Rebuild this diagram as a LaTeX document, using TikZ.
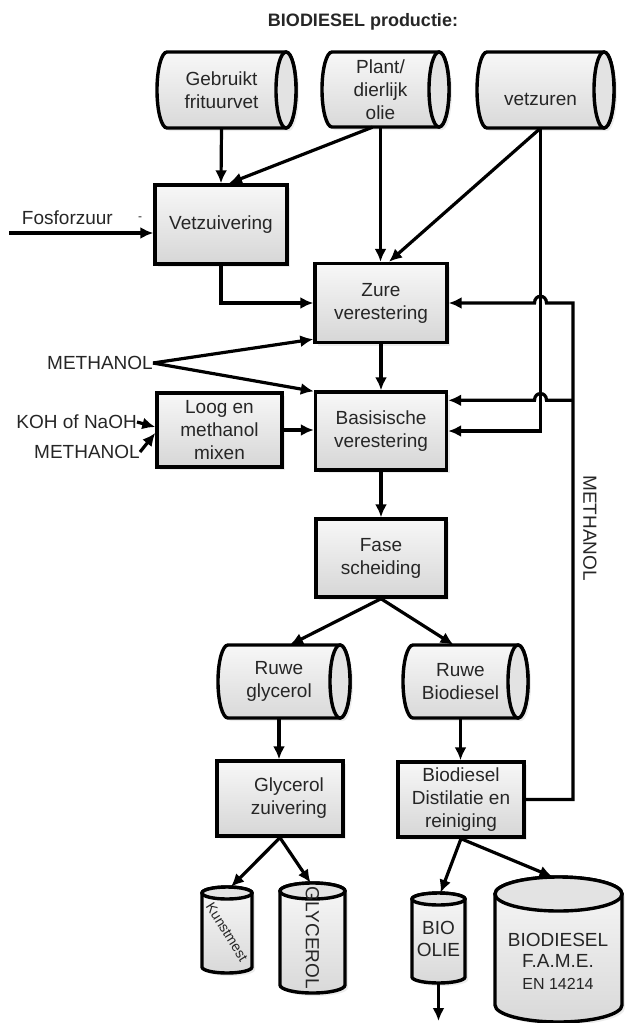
\documentclass[tikz,border=0pt]{standalone}
\usepackage{fontspec}
\setmainfont{Liberation Sans}
\usetikzlibrary{arrows.meta,shadows}

\newcommand\txtsize{\fontsize{19}{23}\selectfont}

\tikzset{
  outline/.style={draw=black, line width=3.4pt},
  softshadow/.style={drop shadow={shadow xshift=3pt, shadow yshift=-3pt, opacity=0.15}},
  procbox/.style={outline, rectangle, inner sep=0pt, align=center,
    top color=gray!6, bottom color=gray!32, text=black!85, font=\txtsize, softshadow},
  drumbody/.style={outline, top color=gray!6, bottom color=gray!30, softshadow},
  drumcap/.style={outline, fill=gray!22},
  drumlabel/.style={inner sep=0pt, align=center, text=black!85, font=\txtsize},
  plain/.style={inner sep=0pt, align=center, text=black!85, font=\txtsize},
  flow/.style={line width=3.2pt, -{Latex[length=13pt,width=12pt]}},
}

% lying drum: name, left x, top y, right x, bottom y, label
\newcommand\lyingdrum[6]{%
  \pgfmathsetmacro\drumXa{#2+10}%
  \pgfmathsetmacro\drumXb{#4-10}%
  \pgfmathsetmacro\drumR{(#5-#3)/2}%
  \pgfmathsetmacro\drumYm{(#3+#5)/2}%
  \pgfmathsetmacro\drumW{#4-10-#2}%
  \pgfmathsetmacro\drumH{#5-#3}%
  \pgfmathsetmacro\drumXc{(#2+#4-10)/2}%
  \path[drumbody] (\drumXb,#3) -- (\drumXa,#3)
     arc[start angle=90,end angle=270,x radius=10pt,y radius=\drumR pt]
     -- (\drumXb,#5)
     arc[start angle=-90,end angle=90,x radius=10pt,y radius=\drumR pt] -- cycle;
  \draw[drumcap] (\drumXb,\drumYm) ellipse[x radius=10pt,y radius=\drumR pt];
  \node[drumlabel, minimum width=\drumW pt, minimum height=\drumH pt] (#1) at (\drumXc,\drumYm) {#6};
}

% standing drum: name, left x, top y, right x, lower end of sides y, lid radius
\newcommand\standingdrum[6]{%
  \pgfmathsetmacro\drumXm{(#2+#4)/2}%
  \pgfmathsetmacro\drumRx{(#4-#2)/2}%
  \pgfmathsetmacro\drumYt{#3+#6}%
  \pgfmathsetmacro\drumW{#4-#2}%
  \pgfmathsetmacro\drumH{#5+#6-#3}%
  \pgfmathsetmacro\drumYc{(#3+#5+#6)/2}%
  \path[drumbody] (#2,\drumYt) -- (#2,#5)
     arc[start angle=180,end angle=360,x radius=\drumRx pt,y radius=#6 pt]
     -- (#4,\drumYt)
     arc[start angle=0,end angle=180,x radius=\drumRx pt,y radius=#6 pt] -- cycle;
  \draw[drumcap] (\drumXm,\drumYt) ellipse[x radius=\drumRx pt,y radius=#6 pt];
  \node[inner sep=0pt, minimum width=\drumW pt, minimum height=\drumH pt] (#1) at (\drumXm,\drumYc) {};
}

\begin{document}
\begin{tikzpicture}[x=1pt, y=-1pt]
\useasboundingbox (0,0) rectangle (624,1023);

\node[plain, font=\fontsize{18}{20}\selectfont\bfseries] (title) at (363,22) {BIODIESEL productie:};

% raw materials
\lyingdrum{geb}{157}{52}{296}{128}{Gebruikt\\frituurvet}
\lyingdrum{plant}{322}{52}{449}{127}{Plant/\\dierlijk\\olie}
\lyingdrum{vetzur}{477}{52}{614}{128}{\mbox{}\\[8pt]vetzuren}

% process steps
\node[procbox, minimum width=132pt, minimum height=79pt] (vetz)  at (221,224.5) {Vetzuivering};
\node[procbox, minimum width=132pt, minimum height=79pt] (zure)  at (381,303)   {Zure\\verestering};
\node[procbox, minimum width=131pt, minimum height=78pt] (basis) at (381,431)   {Basisische\\verestering};
\node[procbox, minimum width=125pt, minimum height=74pt] (loog)  at (219.5,430) {Loog en\\methanol\\mixen};
\node[procbox, minimum width=130pt, minimum height=78pt] (fase)  at (381,558)   {Fase\\scheiding};

\lyingdrum{rglyc}{218}{645}{350}{718}{Ruwe\\glycerol}
\lyingdrum{rbio}{403}{645}{528}{718}{Ruwe\\Biodiesel}

\node[procbox, minimum width=126pt, minimum height=75pt] (glyz) at (280,798.5) {\hspace*{18pt}Glycerol\\\hspace*{18pt}zuivering};
\node[procbox, minimum width=126pt, minimum height=75pt] (dist) at (461,799.5) {Biodiesel\\Distilatie en\\reiniging};

% products
\standingdrum{kunst}{202}{887}{252}{967}{6}
\standingdrum{glyc}{280}{883}{345}{985}{8}
\standingdrum{bio}{412}{893}{465}{977}{6}
\standingdrum{fame}{495}{877}{622}{1005}{17}

\node[plain, rotate=-58, font=\fontsize{14}{17}\selectfont] (kunsttxt) at (227,932) {Kunstmest};
\node[plain, rotate=-90] (glyctxt) at (312.5,938) {GLYCEROL};
\node[plain, font=\fontsize{19}{22}\selectfont] (biotxt) at (438.5,939) {BIO\\OLIE};
\node[plain, font=\fontsize{19}{21.5}\selectfont] (fametxt) at (558,961) {BIODIESEL\\F.A.M.E.\\{\fontsize{16}{21.5}\selectfont EN 14214}};

% side inputs
\node[plain, anchor=east] (fosf) at (113,218) {Fosforzuur};
\node[plain, font=\fontsize{12}{12}\selectfont] (fosfmark) at (140,219) {-};
\coordinate (fosfin) at (9,233);
\node[plain, anchor=east] (meth1) at (153,363) {METHANOL};
\node[plain, anchor=east] (koh) at (137,422) {KOH of NaOH};
\node[plain, anchor=east] (meth2) at (140,452) {METHANOL};
\node[plain, rotate=-90] (methret) at (590,528) {METHANOL};

% feed lines
\draw[flow] (geb.south) -- (vetz.north);
\draw[flow] ([xshift=-8pt]plant.south) -- ([xshift=8pt]vetz.north);
\draw[flow] (plant.south) -- (plant.south |- zure.north);
\draw[flow] (vetzur.south) -- ([xshift=8pt]zure.north);
\draw[flow] (vetzur.south) |- (basis.east);
\draw[flow] (fosfin) -- ([yshift=-8.5pt]vetz.west);
\draw[flow] (vetz.south) |- (zure.west);
\draw[flow] (meth1.east) -- ([yshift=5pt]zure.south west);
\draw[flow] (meth1.east) -- ([yshift=-1pt]basis.north west);
\draw[flow] (koh.east) -- ([yshift=3pt]loog.west);
\draw[flow] (meth2.east) -- ([yshift=-3pt]loog.west);
\draw[flow] (loog.east) -- (loog.east -| basis.west);
\draw[flow] (zure.south) -- (basis.north);
\draw[flow] (basis.south) -- (fase.north);

% methanol return with hops over the fatty acid line
\coordinate (mtop) at (573,303);
\coordinate (hopA) at (vetzur.south |- zure.east);
\coordinate (basisin) at ([yshift=-10pt]basis.north east);
\coordinate (mmid) at (mtop |- basisin);
\coordinate (hopB) at (vetzur.south |- basisin);
\draw[flow] (dist.east) -| (mtop) -- ([xshift=6pt]hopA)
  .. controls ([xshift=6pt,yshift=9pt]hopA) and ([xshift=-6pt,yshift=9pt]hopA) .. ([xshift=-6pt]hopA)
  -- (zure.east);
\draw[flow] (mmid) -- ([xshift=6pt]hopB)
  .. controls ([xshift=6pt,yshift=9pt]hopB) and ([xshift=-6pt,yshift=9pt]hopB) .. ([xshift=-6pt]hopB)
  -- (basisin);

% separation and finishing
\draw[flow] (fase.south) -- ([xshift=11pt]rglyc.north);
\draw[flow] (fase.south) -- ([xshift=-7pt]rbio.north);
\draw[flow] (rglyc.south) -- (rglyc.south |- glyz.north);
\draw[flow] (rbio.south) -- (rbio.south |- dist.north);
\draw[flow] (glyz.south) -- ([xshift=4pt]kunst.north);
\draw[flow] (glyz.south) -- ([xshift=-2pt]glyc.north);
\draw[flow] (dist.south) -- ([xshift=2pt]bio.north);
\draw[flow] (dist.south) -- ([xshift=-6pt]fame.north);
\coordinate (bioout) at (438.5,1021);
\draw[flow] (bio.south) -- (bioout);
\end{tikzpicture}
\end{document}
